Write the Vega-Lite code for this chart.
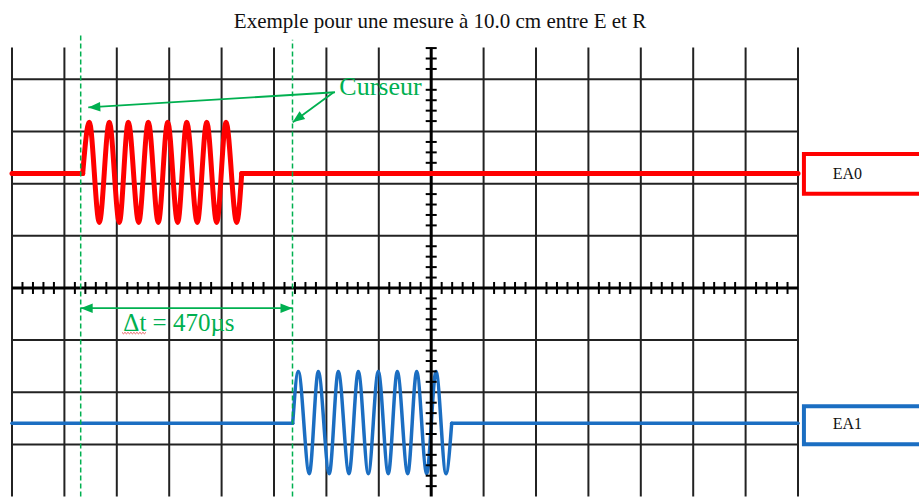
{
  "$schema": "https://vega.github.io/schema/vega-lite/v6.json",
  "width": 919,
  "height": 499,
  "padding": 0,
  "autosize": {"type": "fit", "contains": "padding"},
  "background": "#ffffff",
  "config": {"view": {"stroke": null}},
  "datasets": {
    "vgrid": [
      {"x": -8, "y": -4, "y2": 4.609}, {"x": -7, "y": -4, "y2": 4.609}, {"x": -6, "y": -4, "y2": 4.609},
      {"x": -5, "y": -4, "y2": 4.609}, {"x": -4, "y": -4, "y2": 4.609}, {"x": -3, "y": -4, "y2": 4.609},
      {"x": -2, "y": -4, "y2": 4.609}, {"x": -1, "y": -4, "y2": 4.609}, {"x": 1, "y": -4, "y2": 4.609},
      {"x": 2, "y": -4, "y2": 4.609}, {"x": 3, "y": -4, "y2": 4.609}, {"x": 4, "y": -4, "y2": 4.609},
      {"x": 5, "y": -4, "y2": 4.609}, {"x": 6, "y": -4, "y2": 4.609}, {"x": 7, "y": -4, "y2": 4.609}
    ],
    "hgrid": [
      {"x": -8, "x2": 7, "y": -3}, {"x": -8, "x2": 7, "y": -2}, {"x": -8, "x2": 7, "y": -1},
      {"x": -8, "x2": 7, "y": 1}, {"x": -8, "x2": 7, "y": 2}, {"x": -8, "x2": 7, "y": 3},
      {"x": -8, "x2": 7, "y": 4}
    ],
    "axes": [
      {"x": 0, "x2": 0, "y": -4, "y2": 4.609},
      {"x": -8, "x2": 7, "y": 0, "y2": 0}
    ],
    "xticks": [
      {"x": -7.8, "y": 0}, {"x": -7.6, "y": 0}, {"x": -7.4, "y": 0}, {"x": -7.2, "y": 0},
      {"x": -6.8, "y": 0}, {"x": -6.6, "y": 0}, {"x": -6.4, "y": 0}, {"x": -6.2, "y": 0},
      {"x": -5.8, "y": 0}, {"x": -5.6, "y": 0}, {"x": -5.4, "y": 0}, {"x": -5.2, "y": 0},
      {"x": -4.8, "y": 0}, {"x": -4.6, "y": 0}, {"x": -4.4, "y": 0}, {"x": -4.2, "y": 0},
      {"x": -3.8, "y": 0}, {"x": -3.6, "y": 0}, {"x": -3.4, "y": 0}, {"x": -3.2, "y": 0},
      {"x": -2.8, "y": 0}, {"x": -2.6, "y": 0}, {"x": -2.4, "y": 0}, {"x": -2.2, "y": 0},
      {"x": -1.8, "y": 0}, {"x": -1.6, "y": 0}, {"x": -1.4, "y": 0}, {"x": -1.2, "y": 0},
      {"x": -0.8, "y": 0}, {"x": -0.6, "y": 0}, {"x": -0.4, "y": 0}, {"x": -0.2, "y": 0},
      {"x": 0.2, "y": 0}, {"x": 0.4, "y": 0}, {"x": 0.6, "y": 0}, {"x": 0.8, "y": 0},
      {"x": 1.2, "y": 0}, {"x": 1.4, "y": 0}, {"x": 1.6, "y": 0}, {"x": 1.8, "y": 0},
      {"x": 2.2, "y": 0}, {"x": 2.4, "y": 0}, {"x": 2.6, "y": 0}, {"x": 2.8, "y": 0},
      {"x": 3.2, "y": 0}, {"x": 3.4, "y": 0}, {"x": 3.6, "y": 0}, {"x": 3.8, "y": 0},
      {"x": 4.2, "y": 0}, {"x": 4.4, "y": 0}, {"x": 4.6, "y": 0}, {"x": 4.8, "y": 0},
      {"x": 5.2, "y": 0}, {"x": 5.4, "y": 0}, {"x": 5.6, "y": 0}, {"x": 5.8, "y": 0},
      {"x": 6.2, "y": 0}, {"x": 6.4, "y": 0}, {"x": 6.6, "y": 0}, {"x": 6.8, "y": 0}
    ],
    "yticks": [
      {"x": 0, "y": -3.8}, {"x": 0, "y": -3.6}, {"x": 0, "y": -3.4}, {"x": 0, "y": -3.2},
      {"x": 0, "y": -2.8}, {"x": 0, "y": -2.6}, {"x": 0, "y": -2.4}, {"x": 0, "y": -2.2},
      {"x": 0, "y": -1.8}, {"x": 0, "y": -1.6}, {"x": 0, "y": -1.4}, {"x": 0, "y": -1.2},
      {"x": 0, "y": -0.8}, {"x": 0, "y": -0.6}, {"x": 0, "y": -0.4}, {"x": 0, "y": -0.2},
      {"x": 0, "y": 0.2}, {"x": 0, "y": 0.4}, {"x": 0, "y": 0.6}, {"x": 0, "y": 0.8},
      {"x": 0, "y": 1.2}, {"x": 0, "y": 1.4}, {"x": 0, "y": 1.6}, {"x": 0, "y": 1.8},
      {"x": 0, "y": 2.2}, {"x": 0, "y": 2.4}, {"x": 0, "y": 2.6}, {"x": 0, "y": 2.8},
      {"x": 0, "y": 3.2}, {"x": 0, "y": 3.4}, {"x": 0, "y": 3.6}, {"x": 0, "y": 3.8},
      {"x": 0, "y": 4.2}, {"x": 0, "y": 4.4}, {"x": 0, "y": 4.6}
    ],
    "ea0": [
      {"seg": "a", "x": -8, "y": 2.193}, {"seg": "a", "x": -6.651, "y": 2.193},
      {"seg": "b", "x": -6.651, "y": 2.193}, {"seg": "b", "x": -6.525, "y": 3.179},
      {"seg": "b", "x": -6.334, "y": 1.257}, {"seg": "b", "x": -6.143, "y": 3.179},
      {"seg": "b", "x": -5.952, "y": 1.257}, {"seg": "b", "x": -5.781, "y": 3.179},
      {"seg": "b", "x": -5.582, "y": 1.257}, {"seg": "b", "x": -5.399, "y": 3.179},
      {"seg": "b", "x": -5.208, "y": 1.257}, {"seg": "b", "x": -5.029, "y": 3.179},
      {"seg": "b", "x": -4.838, "y": 1.257}, {"seg": "b", "x": -4.666, "y": 3.179},
      {"seg": "b", "x": -4.464, "y": 1.257}, {"seg": "b", "x": -4.284, "y": 3.179},
      {"seg": "b", "x": -4.094, "y": 1.257}, {"seg": "b", "x": -3.916, "y": 3.179},
      {"seg": "b", "x": -3.712, "y": 1.257}, {"seg": "b", "x": -3.616, "y": 2.193},
      {"seg": "c", "x": -3.616, "y": 2.193}, {"seg": "c", "x": 7.0, "y": 2.193}
    ],
    "ea1": [
      {"seg": "a", "x": -8, "y": -2.595}, {"seg": "a", "x": -2.643, "y": -2.595},
      {"seg": "b", "x": -2.643, "y": -2.595}, {"seg": "b", "x": -2.536, "y": -1.602},
      {"seg": "b", "x": -2.326, "y": -3.561}, {"seg": "b", "x": -2.155, "y": -1.602},
      {"seg": "b", "x": -1.945, "y": -3.561}, {"seg": "b", "x": -1.773, "y": -1.602},
      {"seg": "b", "x": -1.569, "y": -3.561}, {"seg": "b", "x": -1.391, "y": -1.602},
      {"seg": "b", "x": -1.2, "y": -3.561}, {"seg": "b", "x": -1.01, "y": -1.602},
      {"seg": "b", "x": -0.819, "y": -3.561}, {"seg": "b", "x": -0.647, "y": -1.602},
      {"seg": "b", "x": -0.448, "y": -3.561}, {"seg": "b", "x": -0.277, "y": -1.602},
      {"seg": "b", "x": -0.086, "y": -3.561}, {"seg": "b", "x": 0.092, "y": -1.602},
      {"seg": "b", "x": 0.282, "y": -3.561}, {"seg": "b", "x": 0.391, "y": -2.595},
      {"seg": "c", "x": 0.391, "y": -2.595}, {"seg": "c", "x": 7.0, "y": -2.595}
    ],
    "squiggle": [
      {"x": -5.901, "y": -0.852}, {"x": -5.873, "y": -0.879}, {"x": -5.844, "y": -0.852},
      {"x": -5.816, "y": -0.879}, {"x": -5.787, "y": -0.852}, {"x": -5.759, "y": -0.879},
      {"x": -5.730, "y": -0.852}, {"x": -5.701, "y": -0.879}, {"x": -5.673, "y": -0.852},
      {"x": -5.644, "y": -0.879}, {"x": -5.616, "y": -0.852}, {"x": -5.587, "y": -0.879},
      {"x": -5.558, "y": -0.852}, {"x": -5.530, "y": -0.879}, {"x": -5.501, "y": -0.852},
      {"x": -5.473, "y": -0.879}, {"x": -5.444, "y": -0.852}
    ],
    "cursors": [
      {"x": -6.689, "y": -4, "y2": 4.856},
      {"x": -2.647, "y": -4, "y2": 4.761}
    ],
    "arrows": [
      {"x": -1.836, "y": 3.753, "x2": -6.544, "y2": 3.462},
      {"x": -1.868, "y": 3.747, "x2": -2.643, "y2": 3.177},
      {"x": -6.689, "y": -0.388, "x2": -2.647, "y2": -0.388}
    ]
  },
  "encoding": {
    "x": {"field": "x", "type": "quantitative", "axis": null, "scale": {"domain": [-8.229, 9.309], "nice": false, "zero": false}},
    "y": {"field": "y", "type": "quantitative", "axis": null, "scale": {"domain": [-3.97, 5.522], "nice": false, "zero": false}}
  },
  "layer": [
    {
      "data": {"name": "vgrid"},
      "mark": {"type": "rule", "color": "#222222", "strokeWidth": 2},
      "encoding": {"y2": {"field": "y2"}}
    },
    {
      "data": {"name": "hgrid"},
      "mark": {"type": "rule", "color": "#222222", "strokeWidth": 2},
      "encoding": {"x2": {"field": "x2"}}
    },
    {
      "data": {"name": "ea1"},
      "mark": {"type": "line", "color": "#1b6ec2", "strokeWidth": 3.5, "interpolate": "monotone", "strokeCap": "round"},
      "encoding": {"detail": {"field": "seg"}}
    },
    {
      "data": {"name": "axes"},
      "mark": {"type": "rule", "color": "#000000", "strokeWidth": 3},
      "encoding": {"x2": {"field": "x2"}, "y2": {"field": "y2"}}
    },
    {
      "data": {"name": "xticks"},
      "mark": {"type": "tick", "orient": "vertical", "color": "#000000", "size": 12, "thickness": 2, "opacity": 1}
    },
    {
      "data": {"name": "yticks"},
      "mark": {"type": "tick", "orient": "horizontal", "color": "#000000", "size": 11, "thickness": 2, "opacity": 1}
    },
    {
      "data": {"name": "ea0"},
      "mark": {"type": "line", "color": "#ff0000", "strokeWidth": 5, "interpolate": "monotone", "strokeCap": "round"},
      "encoding": {"detail": {"field": "seg"}}
    },
    {
      "data": {"name": "cursors"},
      "mark": {"type": "rule", "color": "#00b050", "strokeWidth": 1.5, "strokeDash": [5, 3]},
      "encoding": {"y2": {"field": "y2"}}
    },
    {
      "data": {"name": "arrows"},
      "mark": {"type": "rule", "color": "#00b050", "strokeWidth": 1.8},
      "encoding": {"x2": {"field": "x2"}, "y2": {"field": "y2"}}
    },
    {
      "data": {"values": [{"x": -6.544, "y": 3.462}]},
      "mark": {"type": "point", "shape": "M0,0L2,-0.8L2,0.8Z", "size": 144, "filled": true, "color": "#00b050", "opacity": 1, "angle": 356.5}
    },
    {
      "data": {"values": [{"x": -2.643, "y": 3.177}]},
      "mark": {"type": "point", "shape": "M0,0L2,-0.8L2,0.8Z", "size": 144, "filled": true, "color": "#00b050", "opacity": 1, "angle": 323.5}
    },
    {
      "data": {"values": [{"x": -6.689, "y": -0.388}]},
      "mark": {"type": "point", "shape": "M0,0L2,-0.8L2,0.8Z", "size": 144, "filled": true, "color": "#00b050", "opacity": 1, "angle": 0}
    },
    {
      "data": {"values": [{"x": -2.647, "y": -0.388}]},
      "mark": {"type": "point", "shape": "M0,0L2,-0.8L2,0.8Z", "size": 144, "filled": true, "color": "#00b050", "opacity": 1, "angle": 180}
    },
    {
      "data": {"values": [{"x": -1.754, "y": 3.696, "label": "Curseur"}]},
      "mark": {"type": "text", "font": "Liberation Serif", "fontSize": 26, "color": "#00b050", "align": "left", "baseline": "alphabetic"},
      "encoding": {"text": {"field": "label"}}
    },
    {
      "data": {"values": [{"x": -5.876, "y": -0.818, "label": "Δt = 470µs"}]},
      "mark": {"type": "text", "font": "Liberation Serif", "fontSize": 25, "color": "#00b050", "align": "left", "baseline": "alphabetic"},
      "encoding": {"text": {"field": "label"}}
    },
    {
      "data": {"name": "squiggle"},
      "mark": {"type": "line", "color": "#e03030", "strokeWidth": 0.8}
    },
    {
      "data": {"values": [{"x": 0.168, "y": 4.984, "label": "Exemple pour une mesure à 10.0 cm entre E et R"}]},
      "mark": {"type": "text", "font": "Liberation Serif", "fontSize": 21, "color": "#111111", "align": "center", "baseline": "alphabetic"},
      "encoding": {"text": {"field": "label"}}
    },
    {
      "data": {"values": [{"x": 7.113, "x2": 9.5, "y": 2.568, "y2": 1.808}]},
      "mark": {"type": "rect", "fill": "#ffffff", "stroke": "#ff0000", "strokeWidth": 4, "clip": true},
      "encoding": {"x2": {"field": "x2"}, "y2": {"field": "y2"}}
    },
    {
      "data": {"values": [{"x": 7.113, "x2": 9.5, "y": -2.267, "y2": -2.996}]},
      "mark": {"type": "rect", "fill": "#ffffff", "stroke": "#1b6ec2", "strokeWidth": 4, "clip": true},
      "encoding": {"x2": {"field": "x2"}, "y2": {"field": "y2"}}
    },
    {
      "data": {"values": [{"x": 7.662, "y": 2.098, "label": "EA0"}, {"x": 7.662, "y": -2.709, "label": "EA1"}]},
      "mark": {"type": "text", "font": "Liberation Serif", "fontSize": 16, "color": "#111111", "align": "left", "baseline": "alphabetic"},
      "encoding": {"text": {"field": "label"}}
    }
  ]
}
